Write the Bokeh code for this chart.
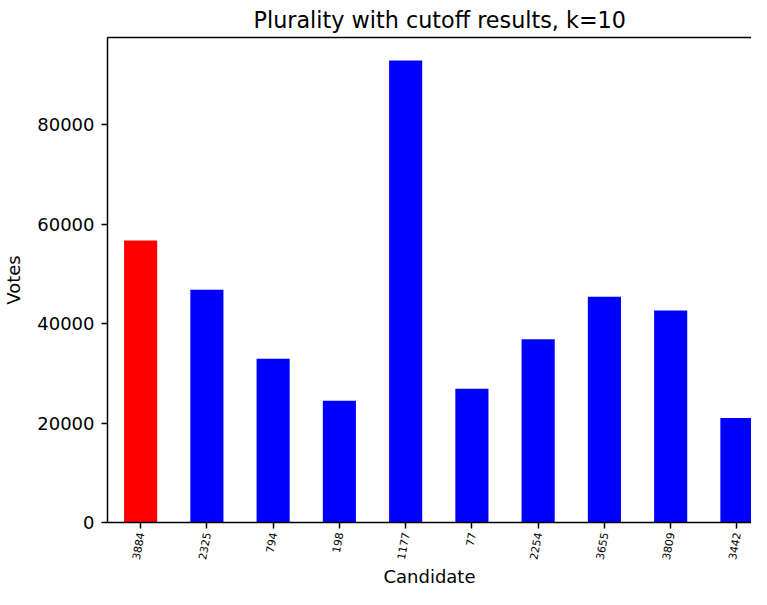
import math
from bokeh.plotting import figure
from bokeh.models import Range1d, FixedTicker, NumeralTickFormatter, LinearAxis, ColumnDataSource
from bokeh.embed import file_html
from bokeh.resources import INLINE

candidates = ["3884", "2325", "794", "198", "1177", "77", "2254", "3655", "3809", "3442"]
votes = [56700, 46800, 32900, 24500, 92900, 26900, 36850, 45400, 42600, 21000]
bar_colors = ["red", "blue", "blue", "blue", "blue", "blue", "blue", "blue", "blue", "blue"]
y_ticks = [0, 20000, 40000, 60000, 80000]

positions = list(range(len(candidates)))
src = ColumnDataSource(dict(x=positions, top=votes, color=bar_colors))

FONT = "DejaVu Sans"

p = figure(width=751, height=589, output_backend="svg", toolbar_location=None,
           x_range=Range1d(-0.5, 9.22), y_range=Range1d(0, 97500),
           min_border_left=102, min_border_right=0, min_border_top=20, min_border_bottom=63,
           x_axis_label="Candidate", y_axis_label="Votes")
p.outline_line_color = None
p.xgrid.visible = False
p.ygrid.visible = False

p.vbar(x="x", top="top", width=0.5, fill_color="color", line_color=None, source=src)

p.title.text = "Plurality with cutoff results, k=10"
p.title.text_font = FONT
p.title.text_font_size = "22.3px"
p.title.text_font_style = "normal"
p.title.text_color = "black"
p.title.align = "left"
p.title.offset = 146
p.title.standoff = 9

for ax in (p.xaxis[0], p.yaxis[0]):
    ax.axis_line_width = 1.5
    ax.axis_line_color = "black"
    ax.major_tick_line_width = 1.5
    ax.major_tick_line_color = "black"
    ax.major_tick_in = 0
    ax.major_tick_out = 6
    ax.minor_tick_line_color = None
    ax.major_label_text_font = FONT
    ax.major_label_text_color = "black"
    ax.axis_label_text_font = FONT
    ax.axis_label_text_font_size = "18px"
    ax.axis_label_text_font_style = "normal"
    ax.axis_label_text_color = "black"

xa = p.xaxis[0]
xa.ticker = FixedTicker(ticks=positions)
xa.major_label_overrides = {i: c for i, c in zip(positions, candidates)}
xa.major_label_orientation = math.radians(80)
xa.major_label_text_font_size = "10.8px"
xa.major_label_standoff = 4
xa.axis_label_standoff = 2

ya = p.yaxis[0]
ya.ticker = FixedTicker(ticks=y_ticks)
ya.formatter = NumeralTickFormatter(format="0")
ya.major_label_text_font_size = "18px"
ya.major_label_standoff = 7
ya.axis_label_standoff = 10

top = LinearAxis(ticker=FixedTicker(ticks=[]), axis_line_width=1.5, axis_line_color="black",
                 major_tick_line_color=None, minor_tick_line_color=None,
                 major_label_text_font_size="0px")
p.add_layout(top, "above")

open("out.html", "w").write(file_html(p, INLINE))
